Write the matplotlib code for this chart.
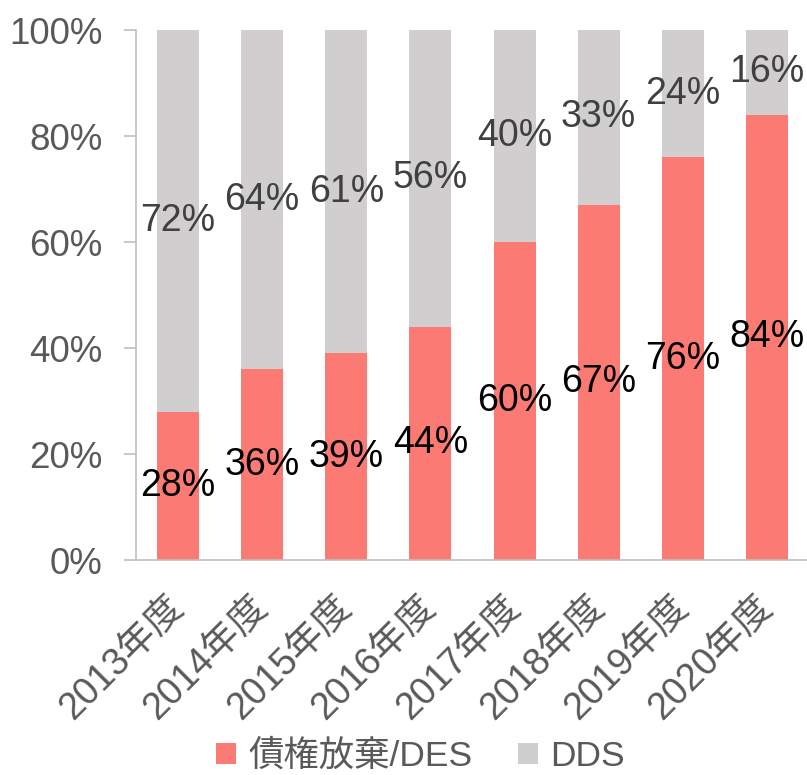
import matplotlib
matplotlib.use('Agg')
import matplotlib.pyplot as plt

plt.rcParams['font.family'] = ['Liberation Sans', 'Noto Sans CJK JP', 'DejaVu Sans']

years = ['2013年度', '2014年度', '2015年度', '2016年度',
         '2017年度', '2018年度', '2019年度', '2020年度']
des = [28, 36, 39, 44, 60, 67, 76, 84]
dds = [72, 64, 61, 56, 40, 33, 24, 16]

red = '#FB7B74'
grey = '#D0CECF'

fig = plt.figure(figsize=(8.07, 7.75), dpi=100)
ax = fig.add_axes([136 / 807, 215 / 775, 673 / 807, 530 / 775])

x = list(range(len(years)))
b1 = ax.bar(x, des, width=0.5, color=red, label='債権放棄/DES')
b2 = ax.bar(x, dds, width=0.5, bottom=des, color=grey, label='DDS')

for i in x:
    ax.text(i, des[i] / 2, f'{des[i]}%', ha='center', va='center',
            fontsize=27, color='black')
    ax.text(i, des[i] + dds[i] / 2, f'{dds[i]}%', ha='center', va='center',
            fontsize=27, color='#404040')

ax.set_xlim(-0.5, len(years) - 0.5)
ax.set_ylim(0, 100)
ax.set_yticks([0, 20, 40, 60, 80, 100])
ax.set_yticklabels([f'{v}%' for v in [0, 20, 40, 60, 80, 100]])
ax.set_xticks(x)
ax.set_xticklabels(years, rotation=45, ha='right', va='center',
                   rotation_mode='anchor')

for s in ['top', 'right']:
    ax.spines[s].set_visible(False)
for s in ['left', 'bottom']:
    ax.spines[s].set_color('#BFBFBF')
    ax.spines[s].set_linewidth(1.2)

ax.tick_params(axis='y', length=9, width=1.2, color='#BFBFBF',
               labelsize=26.5, labelcolor='#595959', pad=15)
ax.tick_params(axis='x', length=0, labelsize=27, labelcolor='#595959', pad=30)

fig.legend(handles=[b1, b2], loc='center', bbox_to_anchor=(0.521, 0.024),
           ncol=2, frameon=False, fontsize=25.5, labelcolor='#595959',
           handlelength=0.55, handleheight=0.55, handletextpad=0.35,
           columnspacing=1.3, borderpad=0)

fig.savefig('out.png', dpi=100)
